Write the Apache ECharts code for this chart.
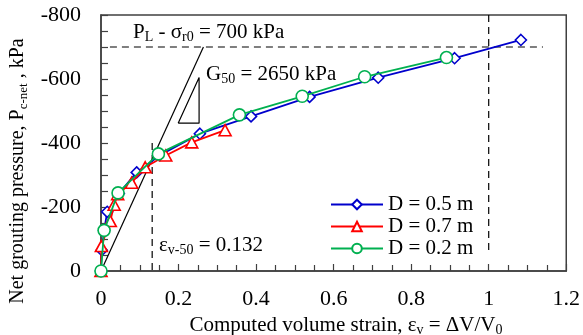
<!DOCTYPE html>
<html>
<head>
<meta charset="utf-8">
<script src="https://cdn.jsdelivr.net/npm/echarts@6/dist/echarts.min.js"></script>
<style>
html, body { margin: 0; padding: 0; background: #fff; }
#chart { width: 583px; height: 335px; }
</style>
</head>
<body>
<div id="chart"></div>
<script>
const FONT = "'Liberation Serif', 'Times New Roman', serif";

// Computed volume strain (-) and net grouting pressure (kPa) per borehole diameter
const strainD05   = [0, 0.002, 0.008, 0.016, 0.046, 0.092, 0.152, 0.255, 0.387, 0.538, 0.715, 0.912, 1.083];
const pressureD05 = [0, -65, -126, -185, -242, -308, -362, -429, -483, -544, -604, -665, -722];

const strainD07   = [0, 0.001, 0.024, 0.034, 0.043, 0.079, 0.114, 0.167, 0.234, 0.320];
const pressureD07 = [0, -78, -156, -207, -240, -276, -324, -361, -402, -440];

const strainD02   = [0, 0.008, 0.044, 0.148, 0.357, 0.519, 0.680, 0.891];
const pressureD02 = [0, -127, -244, -366, -488, -546, -607, -667];

const seriesNames = ['D = 0.5 m', 'D = 0.7 m', 'D = 0.2 m'];
const seriesColors = ['#0000CC', '#FF0000', '#00B050'];
const seriesSymbols = ['diamond', 'triangle', 'circle'];

// Reference quantities
const netLimitPressure = -700;   // P_L - sigma_r0
const strain50 = 0.132;          // strain at half the limit pressure
const shearModulus50 = 2650;     // secant modulus G50 (kPa)

// Reference line geometry
const limitLineStrain = [0.023, 1.14];
const limitLinePressure = [netLimitPressure, netLimitPressure];
const unitStrainLineStrain = [1, 1];
const unitStrainLinePressure = [-800, -60];
const strain50LineStrain = [strain50, strain50];
const strain50LinePressure = [-400, 0];
const secantStrain = [0, -netLimitPressure / shearModulus50];
const secantPressure = [0, netLimitPressure];
const slopeTriStrain = [0.199, 0.253, 0.253, 0.199];
const slopeTriPressure = [-462, -462, -605, -462];

// Axis ticks
const xTicks = { min: 0, max: 1.2, step: 0.2 };
const yTicks = { min: -800, max: 0, step: 200 };

const pairs = (xs, ys) => xs.map((x, i) => [x, ys[i]]);

const dataSets = [
  pairs(strainD05, pressureD05),
  pairs(strainD07, pressureD07),
  pairs(strainD02, pressureD02)
];

const dataSeries = dataSets.map((d, i) => ({
  name: seriesNames[i],
  type: 'line',
  data: d,
  symbol: seriesSymbols[i],
  symbolSize: i === 0 ? [11, 11] : (i === 1 ? [12, 11] : 12),
  showAllSymbol: true,
  lineStyle: { color: seriesColors[i], width: 1.8 },
  itemStyle: { color: '#fff', borderColor: seriesColors[i], borderWidth: 1.6 },
  emphasis: { disabled: true },
  z: 5 + i,
  animation: false
}));

const refLine = (xs, ys, dashed) => ({
  type: 'line',
  data: pairs(xs, ys),
  symbol: 'none',
  silent: true,
  lineStyle: { color: '#000', width: 1.2, type: dashed ? [7, 5] : 'solid' },
  z: 2,
  animation: false
});

const chart = echarts.init(document.getElementById('chart'), null, { renderer: 'canvas' });

const subStyle = { fontFamily: FONT, fontSize: 14, lineHeight: 12, verticalAlign: 'bottom', color: '#000' };
const mainStyle = { fontFamily: FONT, fontSize: 21, lineHeight: 24, color: '#000' };

chart.setOption({
  backgroundColor: '#fff',
  animation: false,
  grid: {
    left: 101, right: 16, top: 15, bottom: 64,
    show: true, borderColor: '#404040', borderWidth: 1.5, backgroundColor: 'transparent'
  },
  legend: {
    data: seriesNames,
    orient: 'vertical',
    left: 330, top: 194,
    padding: 0,
    itemWidth: 52, itemHeight: 12, itemGap: 1,
    textStyle: { fontFamily: FONT, fontSize: 21, color: '#000', lineHeight: 21 },
    selectedMode: false
  },
  xAxis: {
    type: 'value',
    min: xTicks.min, max: xTicks.max, interval: xTicks.step,
    axisLine: { lineStyle: { color: '#404040', width: 1.5 } },
    axisTick: { inside: true, length: 7, lineStyle: { color: '#404040', width: 1.2 } },
    minorTick: { show: true, splitNumber: 4, length: 6, lineStyle: { color: '#404040', width: 1.2 } },
    splitLine: { show: false },
    axisLabel: { fontFamily: FONT, fontSize: 22, color: '#000', margin: 17 }
  },
  yAxis: {
    type: 'value',
    inverse: true,
    min: yTicks.min, max: yTicks.max, interval: yTicks.step,
    axisLine: { lineStyle: { color: '#404040', width: 1.5 } },
    axisTick: { inside: true, length: 7, lineStyle: { color: '#404040', width: 1.2 } },
    minorTick: { show: true, splitNumber: 4, length: 7, lineStyle: { color: '#404040', width: 1.2 } },
    splitLine: { show: false },
    axisLabel: { fontFamily: FONT, fontSize: 22, color: '#000', margin: 20 }
  },
  series: [
    refLine(limitLineStrain, limitLinePressure, true),
    refLine(unitStrainLineStrain, unitStrainLinePressure, true),
    refLine(strain50LineStrain, strain50LinePressure, true),
    refLine(secantStrain, secantPressure, false),
    refLine(slopeTriStrain, slopeTriPressure, false),
    ...dataSeries
  ],
  graphic: [
    {
      type: 'text', x: 133, y: 32,
      style: {
        text: '{m|P}{s|L}{m| - σ}{s|r0}{m| = 700 kPa}',
        rich: { m: mainStyle, s: subStyle },
        textAlign: 'left', textVerticalAlign: 'middle'
      }
    },
    {
      type: 'text', x: 206, y: 74,
      style: {
        text: '{m|G}{s|50}{m| = 2650 kPa}',
        rich: { m: mainStyle, s: subStyle },
        textAlign: 'left', textVerticalAlign: 'middle'
      }
    },
    {
      type: 'text', x: 159, y: 245,
      style: {
        text: '{m|ε}{s|v-50}{m| = 0.132}',
        rich: { m: mainStyle, s: subStyle },
        textAlign: 'left', textVerticalAlign: 'middle'
      }
    },
    {
      type: 'text', x: 346, y: 325,
      style: {
        text: '{m|Computed volume strain, ε}{s|v}{m| = ΔV/V}{s|0}',
        rich: {
          m: Object.assign({}, mainStyle, { fontSize: 21 }),
          s: Object.assign({}, subStyle, { fontSize: 14 })
        },
        textAlign: 'center', textVerticalAlign: 'middle'
      }
    },
    {
      type: 'text', x: 18, y: 171, rotation: Math.PI / 2,
      style: {
        text: '{m|Net grouting pressure, P}{s|c-net}{m| , kPa}',
        rich: {
          m: Object.assign({}, mainStyle, { fontSize: 20 }),
          s: Object.assign({}, subStyle, { fontSize: 13 })
        },
        textAlign: 'center', textVerticalAlign: 'middle'
      }
    }
  ]
});
</script>
</body>
</html>
